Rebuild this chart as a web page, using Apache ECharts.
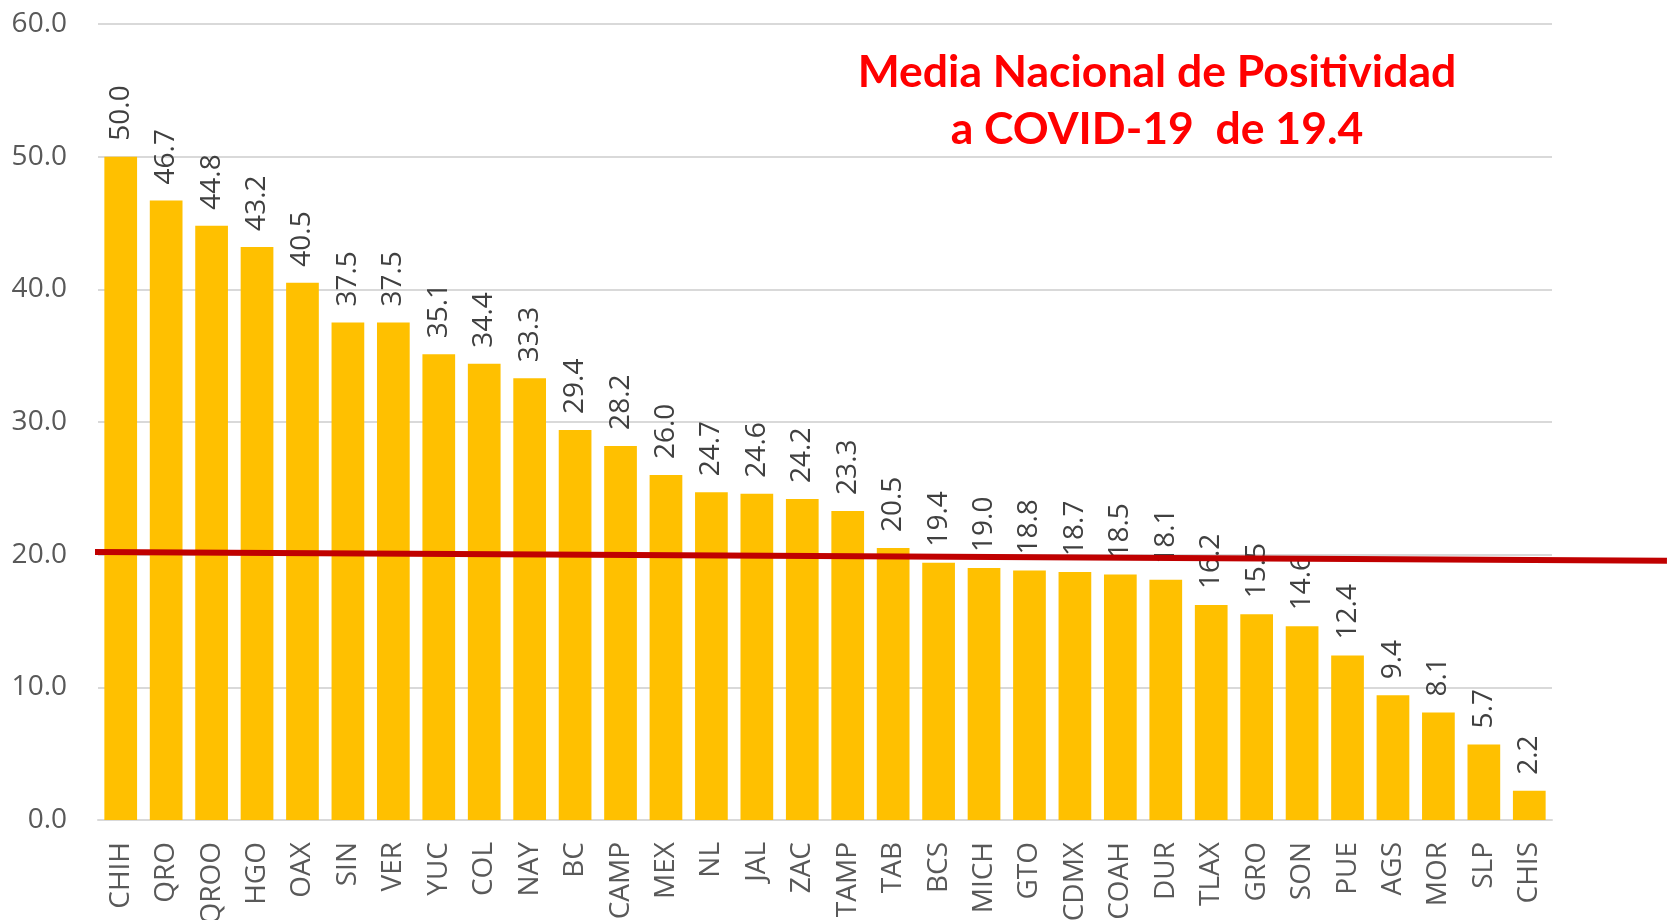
<!DOCTYPE html>
<html>
<head>
<meta charset="utf-8">
<script src="https://cdn.jsdelivr.net/npm/echarts@6/dist/echarts.min.js"></script>
<style>
html,body{margin:0;padding:0;background:#ffffff;}
#chart{width:1667px;height:920px;}
</style>
</head>
<body>
<div id="chart"></div>
<script>
const categories = ["CHIH","QRO","QROO","HGO","OAX","SIN","VER","YUC","COL","NAY","BC","CAMP","MEX","NL","JAL","ZAC","TAMP","TAB","BCS","MICH","GTO","CDMX","COAH","DUR","TLAX","GRO","SON","PUE","AGS","MOR","SLP","CHIS"];
const positividad = [50.0,46.7,44.8,43.2,40.5,37.5,37.5,35.1,34.4,33.3,29.4,28.2,26.0,24.7,24.6,24.2,23.3,20.5,19.4,19.0,18.8,18.7,18.5,18.1,16.2,15.5,14.6,12.4,9.4,8.1,5.7,2.2];
const yTicks = {min: 0, max: 60, interval: 10};
// hand-drawn national mean line: [position in category units, value]
const meanLine = [[-0.1, 20.2], [34.53, 19.55]];
const titleLines = ["Media Nacional de Positividad", "a COVID-19  de 19.4"];

const GRID = {left: 98, right: 115, top: 24, bottom: 100};
const catWidth = (1667 - GRID.left - GRID.right) / categories.length;
const lineAxisMax = (1667 - GRID.left) / catWidth;

const chart = echarts.init(document.getElementById('chart'));
chart.setOption({
  backgroundColor: '#ffffff',
  animation: false,
  title: {
    text: titleLines.join('\n'),
    left: 1152, top: 39, textAlign: 'center',
    textStyle: {color: '#ff0000', fontFamily: 'Lato', fontWeight: 'bold', fontSize: 44.5, lineHeight: 57}
  },
  grid: [
    Object.assign({containLabel: false, outerBoundsMode: 'none'}, GRID),
    {left: GRID.left, right: 0, top: GRID.top, bottom: GRID.bottom, containLabel: false, outerBoundsMode: 'none'}
  ],
  xAxis: [{
    type: 'category', data: categories, gridIndex: 0,
    axisLine: {lineStyle: {color: '#d9d9d9', width: 2}},
    axisTick: {show: false},
    axisLabel: {rotate: 90, margin: 22, color: '#595959', fontFamily: 'Open Sans', fontSize: 28, interval: 0}
  }, {
    type: 'value', gridIndex: 1, min: 0, max: lineAxisMax, show: false
  }],
  yAxis: [{
    type: 'value', gridIndex: 0, min: yTicks.min, max: yTicks.max, interval: yTicks.interval,
    axisLine: {show: false}, axisTick: {show: false},
    splitLine: {lineStyle: {color: '#d9d9d9', width: 2}},
    axisLabel: {color: '#595959', fontFamily: 'Open Sans', fontSize: 28, margin: 31, formatter: v => v.toFixed(1)}
  }, {
    type: 'value', gridIndex: 1, min: yTicks.min, max: yTicks.max, show: false
  }],
  series: [{
    type: 'bar', data: positividad, barCategoryGap: '28%', xAxisIndex: 0, yAxisIndex: 0,
    itemStyle: {color: '#ffc000'},
    label: {show: true, position: 'top', rotate: 90, align: 'left', verticalAlign: 'middle', distance: 16,
      color: '#404040', fontFamily: 'Open Sans', fontSize: 28, formatter: p => p.value.toFixed(1)}
  }, {
    type: 'line', xAxisIndex: 1, yAxisIndex: 1, data: meanLine, clip: false, symbol: 'none',
    lineStyle: {color: '#c00000', width: 6}, z: 5
  }]
});
</script>
</body>
</html>
